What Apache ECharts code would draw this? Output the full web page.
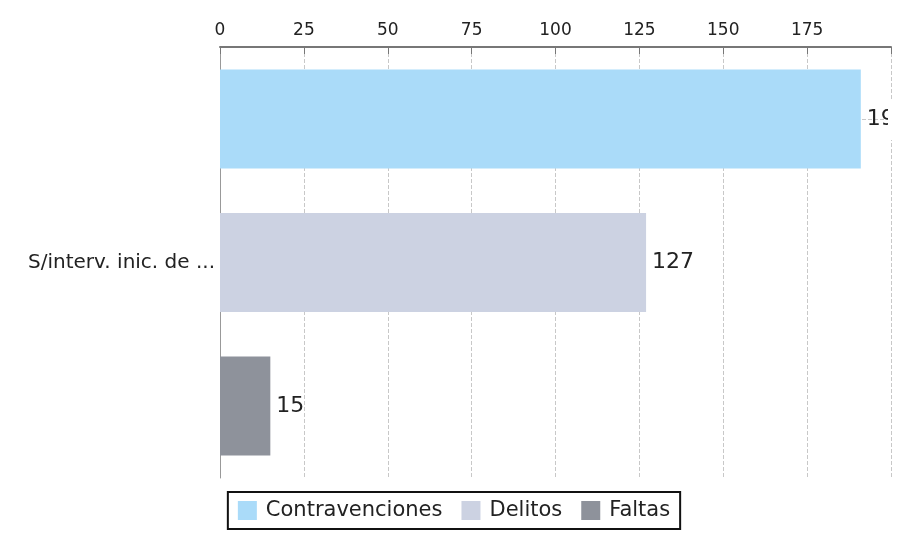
<!DOCTYPE html>
<html><head><meta charset="utf-8">
<script src="https://cdn.jsdelivr.net/npm/echarts@6/dist/echarts.min.js"></script>
<style>html,body{margin:0;padding:0;background:#fff}#c{width:908px;height:536px}</style>
</head><body><div id="c"></div>
<script>
const categories = ['S/interv. inic. de ...'];
const seriesNames = ['Contravenciones', 'Delitos', 'Faltas'];
const contravenciones = [191];
const delitos = [127];
const faltas = [15];
const tickLabels = [0, 25, 50, 75, 100, 125, 150, 175];

const colors = ['#aadbf9', '#ccd2e2', '#8e929b'];
const values = [contravenciones, delitos, faltas];
const chart = echarts.init(document.getElementById('c'));
chart.setOption({
  animation: false,
  grid: {left: 220, right: 17, top: 47, bottom: 58, containLabel: false},
  xAxis: {
    type: 'value', position: 'top', min: 0, max: 200, interval: 25,
    axisLine: {show: true, lineStyle: {color: '#777', width: 2}},
    axisTick: {show: true, inside: true, length: 7, lineStyle: {color: '#777'}},
    axisLabel: {color: '#222', fontFamily: 'DejaVu Sans', fontSize: 17, margin: 8,
      formatter: v => tickLabels.includes(v) ? String(v) : ''},
    splitLine: {show: true, lineStyle: {color: '#c8c8c8', type: 'dashed'}}
  },
  yAxis: {
    type: 'category', data: categories, inverse: true,
    axisLine: {show: true, lineStyle: {color: '#999', width: 1}},
    axisTick: {show: false},
    axisLabel: {color: '#222', fontFamily: 'DejaVu Sans', fontSize: 20, margin: 5},
    splitLine: {show: false}
  },
  legend: {
    bottom: 7, left: 'center', itemWidth: 19, itemHeight: 19, itemGap: 19,
    icon: 'rect', borderColor: '#111', borderWidth: 2, padding: [8, 10, 8, 10],
    textStyle: {color: '#222', fontFamily: 'DejaVu Sans', fontSize: 21, padding: [0, 0, 0, 4]},
    data: seriesNames
  },
  graphic: [{type: 'rect', right: 0, top: 100, shape: {width: 20, height: 40}, style: {fill: '#fff'}, z: 100}],
  series: seriesNames.map((n, i) => ({
    name: n, type: 'bar', data: values[i], barWidth: 99, barGap: '45%',
    itemStyle: {color: colors[i]},
    label: {show: true, position: 'right', color: '#222', fontFamily: 'DejaVu Sans', fontSize: 22, distance: 6},
    markLine: i === 0 ? {silent: true, symbol: 'none', label: {show: false},
      lineStyle: {color: '#c8c8c8', type: 'dashed', width: 1}, z: 0,
      data: [{yAxis: categories[0]}]} : undefined
  }))
});
</script></body></html>
